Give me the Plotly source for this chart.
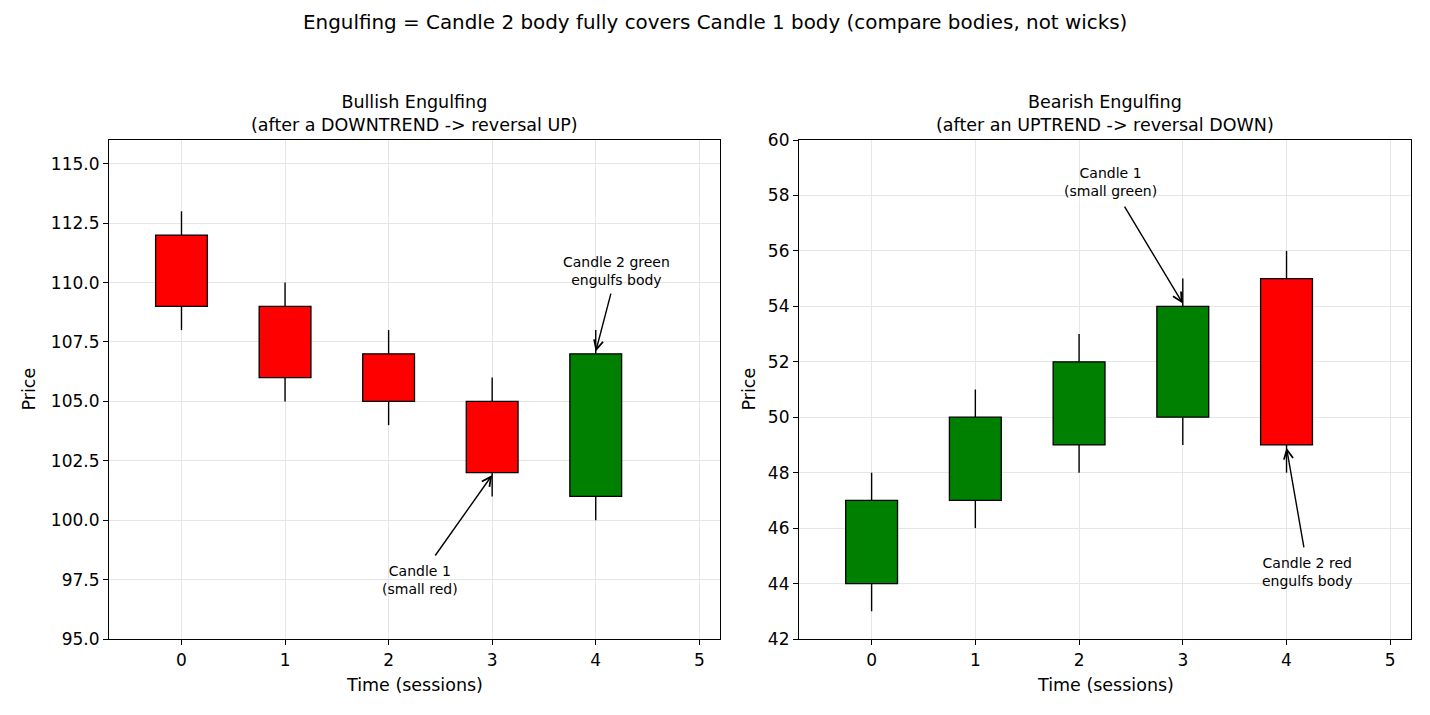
import plotly.graph_objects as go

# ---- data ----
sessions = [0, 1, 2, 3, 4]

bull_open = [112, 109, 107, 105, 101]
bull_close = [109, 106, 105, 102, 107]
bull_high = [113, 110, 108, 106, 108]
bull_low = [108, 105, 104, 101, 100]

bear_open = [44, 47, 49, 50, 55]
bear_close = [47, 50, 52, 54, 49]
bear_high = [48, 51, 53, 55, 56]
bear_low = [43, 46, 48, 49, 48]

left_yticks = [95.0, 97.5, 100.0, 102.5, 105.0, 107.5, 110.0, 112.5, 115.0]
right_yticks = [42, 44, 46, 48, 50, 52, 54, 56, 58, 60]
x_ticks = [0, 1, 2, 3, 4, 5]

W, H = 1430, 715
FONT = "DejaVu Sans"

fig = go.Figure()


def add_candles(o, c, h, l, xa, ya):
    colors = ["#008000" if cc >= oo else "#ff0000" for oo, cc in zip(o, c)]
    base = [min(oo, cc) for oo, cc in zip(o, c)]
    size = [abs(cc - oo) for oo, cc in zip(o, c)]
    # wicks (segments outside body)
    wx, wy = [], []
    for xi, oo, cc, hh, ll in zip(sessions, o, c, h, l):
        wx += [xi, xi, None, xi, xi, None]
        wy += [hh, max(oo, cc), None, min(oo, cc), ll, None]
    fig.add_trace(go.Scatter(x=wx, y=wy, mode="lines",
                             line=dict(color="black", width=1.4),
                             xaxis=xa, yaxis=ya, showlegend=False,
                             hoverinfo="skip"))
    fig.add_trace(go.Bar(x=sessions, y=size, base=base, width=0.5,
                         marker=dict(color=colors,
                                     line=dict(color="black", width=1.3)),
                         xaxis=xa, yaxis=ya, showlegend=False))


add_candles(bull_open, bull_close, bull_high, bull_low, "x", "y")
add_candles(bear_open, bear_close, bear_high, bear_low, "x2", "y2")

ydom = [1 - 639 / H, 1 - 140 / H]
axis_common = dict(showline=True, linecolor="black", linewidth=1.2, mirror=True,
                   ticks="outside", ticklen=5, tickwidth=1.2, tickcolor="black",
                   showgrid=True, gridcolor="#e6e6e6", gridwidth=1,
                   zeroline=False, automargin=False,
                   tickfont=dict(family=FONT, size=17, color="black"))

fig.update_layout(
    width=W, height=H, autosize=False,
    margin=dict(l=0, r=0, t=0, b=0, pad=0, autoexpand=False),
    paper_bgcolor="white", plot_bgcolor="white",
    barmode="overlay",
    xaxis=dict(domain=[109 / W, 720 / W], range=[-0.7, 5.2],
               tickvals=x_ticks, anchor="y", **axis_common),
    yaxis=dict(domain=ydom, range=[95, 116], tickvals=left_yticks,
               tickformat=".1f", anchor="x", **axis_common),
    xaxis2=dict(domain=[799 / W, 1411 / W], range=[-0.7, 5.2],
                tickvals=x_ticks, anchor="y2", **axis_common),
    yaxis2=dict(domain=ydom, range=[42, 60], tickvals=right_yticks,
                anchor="x2", **axis_common),
)

annotations = []
# suptitle
annotations.append(dict(text="Engulfing = Candle 2 body fully covers Candle 1 body (compare bodies, not wicks)",
                        x=715 / W, y=1 - 22 / H, xref="paper", yref="paper",
                        xanchor="center", yanchor="middle", showarrow=False,
                        font=dict(family=FONT, size=19.9, color="black")))
# subplot titles
annotations.append(dict(text="Bullish Engulfing<br>(after a DOWNTREND -> reversal UP)",
                        x=414.5 / W, y=1 - 137.5 / H, xref="paper", yref="paper",
                        xanchor="center", yanchor="bottom", showarrow=False,
                        font=dict(family=FONT, size=17.5, color="black")))
annotations.append(dict(text="Bearish Engulfing<br>(after an UPTREND -> reversal DOWN)",
                        x=1105 / W, y=1 - 137.5 / H, xref="paper", yref="paper",
                        xanchor="center", yanchor="bottom", showarrow=False,
                        font=dict(family=FONT, size=17.5, color="black")))
# axis labels
for cx in (414.5, 1105):
    annotations.append(dict(text="Time (sessions)", x=cx / W, y=1 - 685 / H,
                            xref="paper", yref="paper", xanchor="center",
                            yanchor="middle", showarrow=False,
                            font=dict(family=FONT, size=17.5, color="black")))
for cx in (28, 748):
    annotations.append(dict(text="Price", x=cx / W, y=1 - 389.5 / H,
                            xref="paper", yref="paper", xanchor="center",
                            yanchor="middle", showarrow=False, textangle=-90,
                            font=dict(family=FONT, size=17.5, color="black")))

# callouts: (text, text_x, text_y, tail_x, tail_y, head_x, head_y, xref, yref)
callouts = [
    ("Candle 1<br>(small red)", 2.3, 97.5, 2.44, 98.45, 3, 101.9, "x", "y"),
    ("Candle 2 green<br>engulfs body", 4.2, 110.5, 4.15, 109.6, 4, 107.1, "x", "y"),
    ("Candle 1<br>(small green)", 2.3, 58.5, 2.43, 57.65, 3, 54.1, "x2", "y2"),
    ("Candle 2 red<br>engulfs body", 4.2, 44.4, 4.17, 45.25, 4, 48.9, "x2", "y2"),
]
for txt, tx, ty, ax_, ay_, hx, hy, xr, yr in callouts:
    annotations.append(dict(text=txt, x=tx, y=ty, xref=xr, yref=yr,
                            xanchor="center", yanchor="middle", showarrow=False,
                            font=dict(family=FONT, size=14, color="black")))
    annotations.append(dict(text="", x=hx, y=hy, xref=xr, yref=yr,
                            ax=ax_, ay=ay_, axref=xr, ayref=yr,
                            showarrow=True, arrowhead=5, arrowsize=1.3,
                            arrowwidth=1.4, arrowcolor="black",
                            startstandoff=0, standoff=0))

fig.update_layout(annotations=annotations)

fig.write_html("out.html")
